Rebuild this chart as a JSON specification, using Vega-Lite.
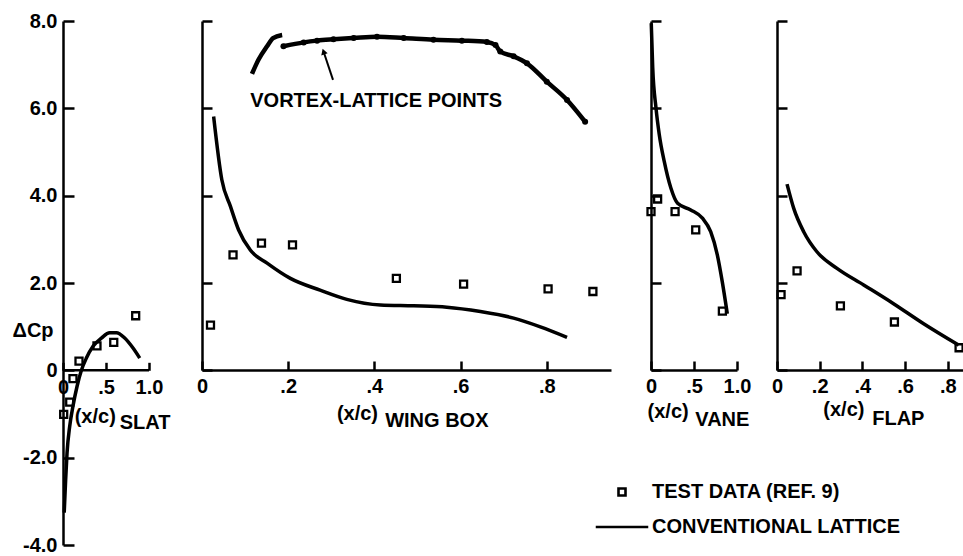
{
  "$schema": "https://vega.github.io/schema/vega-lite/v6.json",
  "padding": {"left": 12, "top": 11, "right": 0, "bottom": 0},
  "bounds": "flush",
  "spacing": 40,
  "config": {
    "font": "Liberation Sans",
    "view": {"stroke": null},
    "axis": {"domainColor": "black", "domainWidth": 2.5, "tickColor": "black", "tickWidth": 2.5, "labelFontSize": 20, "labelFontWeight": "bold", "labelColor": "black", "grid": false, "labelFlush": false, "labelOverlap": false},
    "text": {"fontWeight": "bold", "color": "black"}
  },
  "datasets": {
    "slat_curve": [
      {"x": 0.014, "y": -3.26}, {"x": 0.031, "y": -2.5}, {"x": 0.047, "y": -1.89}, {"x": 0.078, "y": -1.28},
      {"x": 0.116, "y": -0.82}, {"x": 0.163, "y": -0.37}, {"x": 0.214, "y": 0.0}, {"x": 0.272, "y": 0.28},
      {"x": 0.349, "y": 0.55}, {"x": 0.447, "y": 0.74}, {"x": 0.543, "y": 0.86}, {"x": 0.621, "y": 0.86},
      {"x": 0.717, "y": 0.74}, {"x": 0.814, "y": 0.51}, {"x": 0.892, "y": 0.28}
    ],
    "slat_test": [
      {"x": 0.845, "y": 1.25}, {"x": 0.59, "y": 0.64}, {"x": 0.395, "y": 0.56}, {"x": 0.186, "y": 0.21},
      {"x": 0.116, "y": -0.19}, {"x": 0.078, "y": -0.73}, {"x": 0.008, "y": -1.01}
    ],
    "wing_curve": [
      {"x": 0.027, "y": 5.81}, {"x": 0.046, "y": 4.36}, {"x": 0.066, "y": 3.75}, {"x": 0.085, "y": 3.21},
      {"x": 0.112, "y": 2.75}, {"x": 0.151, "y": 2.45}, {"x": 0.205, "y": 2.1}, {"x": 0.274, "y": 1.83},
      {"x": 0.336, "y": 1.62}, {"x": 0.414, "y": 1.49}, {"x": 0.491, "y": 1.47}, {"x": 0.568, "y": 1.44},
      {"x": 0.646, "y": 1.34}, {"x": 0.723, "y": 1.19}, {"x": 0.785, "y": 0.99}, {"x": 0.847, "y": 0.75}
    ],
    "wing_test": [
      {"x": 0.0197, "y": 1.03}, {"x": 0.072, "y": 2.64}, {"x": 0.138, "y": 2.91}, {"x": 0.21, "y": 2.87},
      {"x": 0.451, "y": 2.1}, {"x": 0.607, "y": 1.97}, {"x": 0.803, "y": 1.86}, {"x": 0.907, "y": 1.8}
    ],
    "vortex": [
      {"piece": 1, "x": 0.116, "y": 6.79}, {"piece": 1, "x": 0.131, "y": 7.11}, {"piece": 1, "x": 0.151, "y": 7.42},
      {"piece": 1, "x": 0.165, "y": 7.61}, {"piece": 1, "x": 0.186, "y": 7.68},
      {"piece": 2, "x": 0.189, "y": 7.42}, {"piece": 2, "x": 0.236, "y": 7.51}, {"piece": 2, "x": 0.267, "y": 7.55},
      {"piece": 2, "x": 0.305, "y": 7.58}, {"piece": 2, "x": 0.352, "y": 7.61}, {"piece": 2, "x": 0.406, "y": 7.64},
      {"piece": 2, "x": 0.468, "y": 7.61}, {"piece": 2, "x": 0.537, "y": 7.57}, {"piece": 2, "x": 0.603, "y": 7.55},
      {"piece": 2, "x": 0.661, "y": 7.52}, {"piece": 2, "x": 0.681, "y": 7.45}, {"piece": 2, "x": 0.692, "y": 7.3},
      {"piece": 2, "x": 0.723, "y": 7.19}, {"piece": 2, "x": 0.754, "y": 7.03}, {"piece": 2, "x": 0.8, "y": 6.61},
      {"piece": 2, "x": 0.847, "y": 6.19}, {"piece": 2, "x": 0.889, "y": 5.69}
    ],
    "vane_curve": [
      {"x": 0.003, "y": 7.95}, {"x": 0.02, "y": 6.93}, {"x": 0.058, "y": 6.01}, {"x": 0.096, "y": 5.4},
      {"x": 0.154, "y": 4.78}, {"x": 0.231, "y": 4.17}, {"x": 0.309, "y": 3.82}, {"x": 0.462, "y": 3.67},
      {"x": 0.598, "y": 3.48}, {"x": 0.694, "y": 3.17}, {"x": 0.771, "y": 2.64}, {"x": 0.829, "y": 2.02},
      {"x": 0.887, "y": 1.29}
    ],
    "vane_test": [
      {"x": 0.0, "y": 3.63}, {"x": 0.077, "y": 3.92}, {"x": 0.28, "y": 3.63}, {"x": 0.52, "y": 3.21}, {"x": 0.83, "y": 1.35}
    ],
    "flap_curve": [
      {"x": 0.047, "y": 4.26}, {"x": 0.078, "y": 3.71}, {"x": 0.125, "y": 3.17}, {"x": 0.187, "y": 2.71},
      {"x": 0.281, "y": 2.33}, {"x": 0.406, "y": 1.95}, {"x": 0.546, "y": 1.52}, {"x": 0.687, "y": 1.06},
      {"x": 0.851, "y": 0.57}
    ],
    "flap_test": [
      {"series": "TEST DATA (REF. 9)", "x": 0.019, "y": 1.73}, {"series": "TEST DATA (REF. 9)", "x": 0.094, "y": 2.27},
      {"series": "TEST DATA (REF. 9)", "x": 0.297, "y": 1.47}, {"series": "TEST DATA (REF. 9)", "x": 0.55, "y": 1.1},
      {"series": "TEST DATA (REF. 9)", "x": 0.853, "y": 0.51}
    ]
  },
  "hconcat": [
    {
      "width": 98.4,
      "height": 524,
      "layer": [
        {
          "data": {"name": "slat_curve"},
          "mark": {"type": "line", "strokeWidth": 3.5, "color": "black", "interpolate": "monotone"},
          "encoding": {
            "x": {"field": "x", "type": "quantitative", "scale": {"domain": [0, 1.144], "nice": false, "zero": false},
              "axis": {"title": null, "values": [0, 0.5, 1], "labelExpr": "datum.value == 0 ? '0' : datum.value == 1 ? '1.0' : '.5'", "domain": false, "tickSize": -8, "labelPadding": 15, "offset": -174.7}},
            "y": {"field": "y", "type": "quantitative", "scale": {"domain": [-4, 8], "nice": false, "zero": false},
              "axis": {"values": [-4, -2, 0, 2, 4, 6, 8], "labelExpr": "datum.value == 0 ? '0' : (datum.value < 0 ? '-' : '') + format(abs(datum.value), '.1f')", "tickSize": -11, "labelPadding": 17,
                "title": "ΔCp", "titleAngle": 0, "titleX": -51, "titleY": 309, "titleAlign": "left", "titleBaseline": "middle", "titleFontSize": 20, "titleFontWeight": "bold", "titleColor": "black"}}
          }
        },
        {
          "data": {"name": "slat_test"},
          "mark": {"type": "point", "shape": "square", "filled": false, "size": 49, "strokeWidth": 2.3, "color": "black", "opacity": 1},
          "encoding": {"x": {"field": "x", "type": "quantitative"}, "y": {"field": "y", "type": "quantitative"}}
        },
        {
          "data": {"values": [{}]},
          "mark": {"type": "rule", "strokeWidth": 2.5, "color": "black"},
          "encoding": {"x": {"datum": 0}, "x2": {"datum": 1}, "y": {"datum": 0}}
        },
        {
          "data": {"values": [{}]},
          "mark": {"type": "text", "text": "(x/c)", "align": "left", "baseline": "middle", "fontSize": 20},
          "encoding": {"x": {"datum": 0.136}, "y": {"datum": -1.06}}
        },
        {
          "data": {"values": [{}]},
          "mark": {"type": "text", "text": "SLAT", "align": "left", "baseline": "middle", "fontSize": 20},
          "encoding": {"x": {"datum": 0.66}, "y": {"datum": -1.21}}
        }
      ]
    },
    {
      "width": 409,
      "height": 349,
      "layer": [
        {
          "data": {"name": "wing_curve"},
          "mark": {"type": "line", "strokeWidth": 3.5, "color": "black", "interpolate": "monotone"},
          "encoding": {
            "x": {"field": "x", "type": "quantitative", "scale": {"domain": [0, 0.949], "nice": false, "zero": false},
              "axis": {"title": null, "values": [0, 0.2, 0.4, 0.6, 0.8], "labelExpr": "datum.value == 0 ? '0' : replace(format(datum.value, '.1f'), '0.', '.')", "tickSize": -9, "labelPadding": 15}},
            "y": {"field": "y", "type": "quantitative", "scale": {"domain": [0, 8], "nice": false, "zero": false},
              "axis": {"title": null, "values": [0, 2, 4, 6, 8], "labels": false, "tickSize": -10}}
          }
        },
        {
          "data": {"name": "wing_test"},
          "mark": {"type": "point", "shape": "square", "filled": false, "size": 49, "strokeWidth": 2.3, "color": "black", "opacity": 1},
          "encoding": {"x": {"field": "x", "type": "quantitative"}, "y": {"field": "y", "type": "quantitative"}}
        },
        {
          "data": {"name": "vortex"},
          "mark": {"type": "line", "strokeWidth": 4.5, "color": "black", "interpolate": "monotone"},
          "encoding": {"x": {"field": "x", "type": "quantitative"}, "y": {"field": "y", "type": "quantitative"}, "detail": {"field": "piece", "type": "nominal"}}
        },
        {
          "data": {"name": "vortex"},
          "transform": [{"filter": "datum.piece == 2"}],
          "mark": {"type": "circle", "size": 36, "color": "black", "opacity": 1},
          "encoding": {"x": {"field": "x", "type": "quantitative"}, "y": {"field": "y", "type": "quantitative"}}
        },
        {
          "data": {"values": [{}]},
          "mark": {"type": "text", "text": "VORTEX-LATTICE POINTS", "align": "left", "baseline": "alphabetic", "fontSize": 20},
          "encoding": {"x": {"datum": 0.112}, "y": {"datum": 6.04}}
        },
        {
          "data": {"values": [{}]},
          "mark": {"type": "rule", "strokeWidth": 2, "color": "black"},
          "encoding": {"x": {"datum": 0.304}, "y": {"datum": 6.65}, "x2": {"datum": 0.282}, "y2": {"datum": 7.3}}
        },
        {
          "data": {"values": [{}]},
          "mark": {"type": "point", "shape": "triangle-up", "filled": true, "size": 45, "angle": 341, "color": "black", "opacity": 1},
          "encoding": {"x": {"datum": 0.282}, "y": {"datum": 7.3}}
        },
        {
          "data": {"values": [{}]},
          "mark": {"type": "text", "text": "(x/c)", "align": "left", "baseline": "middle", "fontSize": 20},
          "encoding": {"x": {"datum": 0.313}, "y": {"datum": -1.0}}
        },
        {
          "data": {"values": [{}]},
          "mark": {"type": "text", "text": "WING BOX", "align": "left", "baseline": "middle", "fontSize": 20},
          "encoding": {"x": {"datum": 0.425}, "y": {"datum": -1.17}}
        }
      ]
    },
    {
      "width": 86,
      "height": 349,
      "layer": [
        {
          "data": {"name": "vane_curve"},
          "mark": {"type": "line", "strokeWidth": 3.5, "color": "black", "interpolate": "monotone"},
          "encoding": {
            "x": {"field": "x", "type": "quantitative", "scale": {"domain": [0, 1], "nice": false, "zero": false},
              "axis": {"title": null, "values": [0, 0.5, 1], "labelExpr": "datum.value == 0 ? '0' : datum.value == 1 ? '1.0' : '.5'", "tickSize": -9, "labelPadding": 15}},
            "y": {"field": "y", "type": "quantitative", "scale": {"domain": [0, 8], "nice": false, "zero": false},
              "axis": {"title": null, "values": [0, 2, 4, 6, 8], "labels": false, "tickSize": -10}}
          }
        },
        {
          "data": {"name": "vane_test"},
          "mark": {"type": "point", "shape": "square", "filled": false, "size": 49, "strokeWidth": 2.3, "color": "black", "opacity": 1},
          "encoding": {"x": {"field": "x", "type": "quantitative"}, "y": {"field": "y", "type": "quantitative"}}
        },
        {
          "data": {"values": [{}]},
          "mark": {"type": "text", "text": "(x/c)", "align": "left", "baseline": "middle", "fontSize": 20},
          "encoding": {"x": {"datum": -0.04}, "y": {"datum": -0.96}}
        },
        {
          "data": {"values": [{}]},
          "mark": {"type": "text", "text": "VANE", "align": "left", "baseline": "middle", "fontSize": 20},
          "encoding": {"x": {"datum": 0.515}, "y": {"datum": -1.15}}
        }
      ]
    },
    {
      "width": 187,
      "height": 349,
      "layer": [
        {
          "data": {"name": "flap_curve"},
          "mark": {"type": "line", "strokeWidth": 3.5, "color": "black", "interpolate": "monotone"},
          "encoding": {
            "x": {"field": "x", "type": "quantitative", "scale": {"domain": [0, 0.876], "nice": false, "zero": false},
              "axis": {"title": null, "values": [0, 0.2, 0.4, 0.6, 0.8], "labelExpr": "datum.value == 0 ? '0' : replace(format(datum.value, '.1f'), '0.', '.')", "tickSize": -9, "labelPadding": 15}},
            "y": {"field": "y", "type": "quantitative", "scale": {"domain": [0, 8], "nice": false, "zero": false},
              "axis": {"title": null, "values": [0, 2, 4, 6, 8], "labels": false, "tickSize": -10}}
          }
        },
        {
          "data": {"name": "flap_test"},
          "mark": {"type": "point", "filled": false, "size": 49, "strokeWidth": 2.3, "color": "black", "opacity": 1},
          "encoding": {
            "x": {"field": "x", "type": "quantitative"},
            "y": {"field": "y", "type": "quantitative"},
            "shape": {"field": "series", "type": "nominal",
              "scale": {"domain": ["TEST DATA (REF. 9)", "CONVENTIONAL LATTICE"], "range": ["square", "M-7.5,0H7.5"]},
              "legend": {"title": null, "orient": "none", "legendX": 549, "legendY": 461, "padding": 0,
                "labelFontSize": 20, "labelFontWeight": "bold", "labelColor": "black", "labelLimit": 400,
                "symbolSize": 49, "symbolStrokeWidth": 2.6, "symbolStrokeColor": "black", "symbolFillColor": "transparent",
                "labelOffset": 20, "rowPadding": 15}}
          }
        },
        {
          "data": {"values": [{}]},
          "mark": {"type": "text", "text": "(x/c)", "align": "left", "baseline": "middle", "fontSize": 20},
          "encoding": {"x": {"datum": 0.217}, "y": {"datum": -0.92}}
        },
        {
          "data": {"values": [{}]},
          "mark": {"type": "text", "text": "FLAP", "align": "left", "baseline": "middle", "fontSize": 20},
          "encoding": {"x": {"datum": 0.446}, "y": {"datum": -1.12}}
        }
      ]
    }
  ]
}
